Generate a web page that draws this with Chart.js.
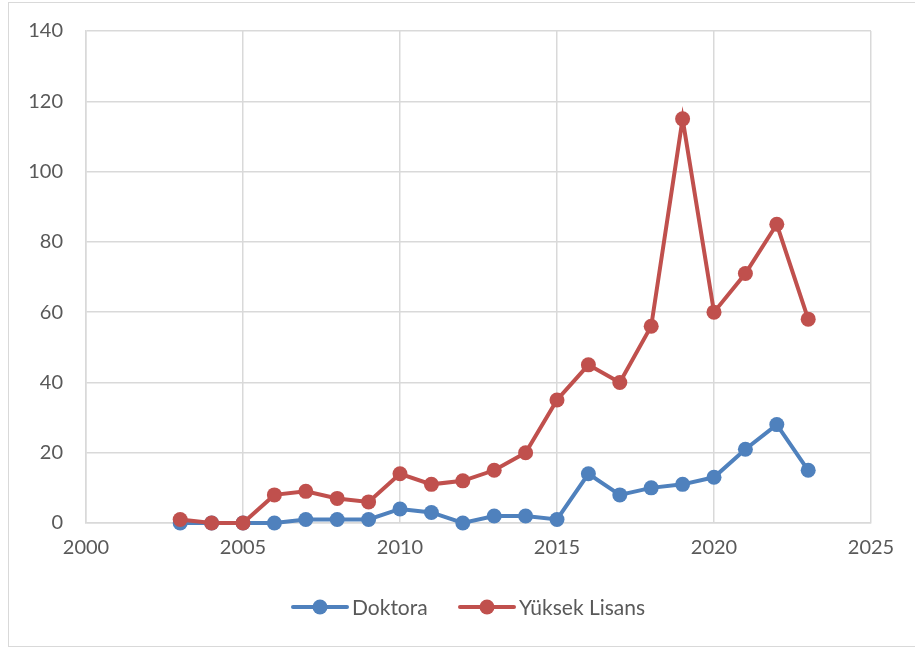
<!DOCTYPE html>
<html>
<head>
<meta charset="utf-8">
<script src="https://cdn.jsdelivr.net/npm/chart.js@4/dist/chart.umd.min.js"></script>
<style>
  html, body { margin: 0; padding: 0; background: #fff; overflow: hidden; }
  #frame { position: absolute; left: 8px; top: 2px; width: 930px; height: 643px; border: 1.5px solid #d9d9d9; }
  #wrap { position: absolute; left: 0; top: 0; width: 915px; height: 648px; }
</style>
</head>
<body>
<div id="frame"></div>
<div id="wrap"><canvas id="chart" width="915" height="648"></canvas></div>
<script>
// Years and counts
const years = [2003, 2004, 2005, 2006, 2007, 2008, 2009, 2010, 2011, 2012, 2013,
               2014, 2015, 2016, 2017, 2018, 2019, 2020, 2021, 2022, 2023];
const doktora = [0, 0, 0, 0, 1, 1, 1, 4, 3, 0, 2, 2, 1, 14, 8, 10, 11, 13, 21, 28, 15];
const yuksekLisans = [1, 0, 0, 8, 9, 7, 6, 14, 11, 12, 15, 20, 35, 45, 40, 56, 115, 60, 71, 85, 58];
const xTicks = [2000, 2005, 2010, 2015, 2020, 2025];
const yTicks = [0, 20, 40, 60, 80, 100, 120, 140];

const blue = '#4f81bd';
const red = '#c0504d';
const grid = '#d9d9d9';
const textColor = '#595959';
const fontFamily = 'Lato, "Open Sans", sans-serif';

function toPoints(values) {
  return years.map((y, i) => ({ x: y, y: values[i] }));
}

// Legend drawn under the plot: line segment with a marker, then the label
const bottomLegend = {
  id: 'bottomLegend',
  afterDraw(chart) {
    const c = chart.ctx;
    const cy = 607;
    const items = [
      { label: 'Doktora', color: blue, x: 293 },
      { label: 'Yüksek Lisans', color: red, x: 460 }
    ];
    c.save();
    c.font = '21px ' + fontFamily;
    c.textBaseline = 'middle';
    items.forEach(it => {
      c.strokeStyle = it.color;
      c.lineWidth = 4;
      c.lineCap = 'round';
      c.beginPath();
      c.moveTo(it.x, cy);
      c.lineTo(it.x + 54, cy);
      c.stroke();
      c.fillStyle = it.color;
      c.beginPath();
      c.arc(it.x + 27, cy, 7.5, 0, Math.PI * 2);
      c.fill();
      c.fillStyle = textColor;
      c.fillText(it.label, it.x + 59, cy + 1);
    });
    c.restore();
  }
};

const ctx = document.getElementById('chart').getContext('2d');
new Chart(ctx, {
  type: 'scatter',
  data: {
    datasets: [
      {
        label: 'Doktora',
        data: toPoints(doktora),
        order: 1,
        showLine: true,
        clip: false,
        borderColor: blue,
        backgroundColor: blue,
        borderWidth: 4,
        pointRadius: 7.5,
        pointBorderWidth: 0,
        pointHoverRadius: 7.5
      },
      {
        label: 'Yüksek Lisans',
        data: toPoints(yuksekLisans),
        order: 0,
        showLine: true,
        clip: false,
        borderColor: red,
        backgroundColor: red,
        borderWidth: 4,
        pointRadius: 7.5,
        pointBorderWidth: 0,
        pointHoverRadius: 7.5
      }
    ]
  },
  options: {
    responsive: false,
    animation: false,
    layout: { padding: { left: 0, right: 44, top: 31, bottom: 0 } },
    plugins: {
      legend: { display: false },
      tooltip: { enabled: false }
    },
    scales: {
      x: {
        type: 'linear',
        min: 2000,
        max: 2025,
        afterBuildTicks: s => { s.ticks = xTicks.map(v => ({ value: v })); },
        afterFit: s => { s.height = 125; s.paddingLeft = 0; s.paddingRight = 0; },
        grid: { color: grid, lineWidth: 1.5, drawTicks: false },
        border: { color: grid, width: 1.5 },
        ticks: {
          color: textColor,
          padding: 13,
          font: { family: fontFamily, size: 20 },
          callback: v => String(v)
        }
      },
      y: {
        min: 0,
        max: 140,
        afterBuildTicks: s => { s.ticks = yTicks.map(v => ({ value: v })); },
        afterFit: s => { s.width = 86; s.paddingTop = 0; s.paddingBottom = 0; },
        grid: { color: grid, lineWidth: 1.5, drawTicks: false },
        border: { color: grid, width: 1.5 },
        ticks: {
          color: textColor,
          padding: 23,
          font: { family: fontFamily, size: 20 }
        }
      }
    }
  },
  plugins: [bottomLegend]
});
</script>
</body>
</html>
